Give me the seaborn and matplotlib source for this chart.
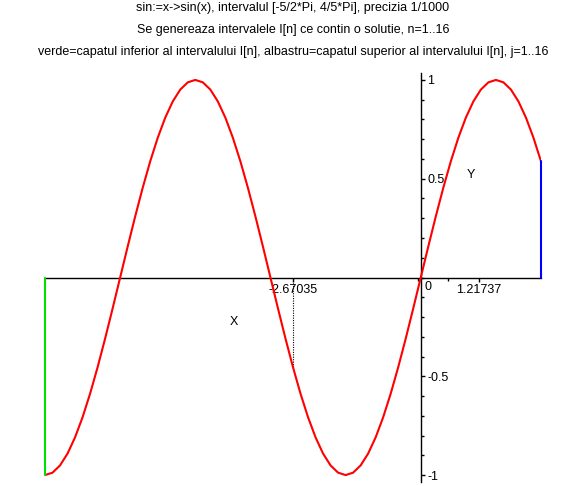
import matplotlib
matplotlib.use("Agg")
import matplotlib.pyplot as plt
import seaborn as sns
from matplotlib.ticker import MultipleLocator

# puncte (x in radiani, pas de 9 grade)
x_vals = [-7.8540, -7.6969, -7.5398, -7.3827, -7.2257, -7.0686, -6.9115, -6.7544,
          -6.5973, -6.4403, -6.2832, -6.1261, -5.9690, -5.8119, -5.6549, -5.4978,
          -5.3407, -5.1836, -5.0265, -4.8695, -4.7124, -4.5553, -4.3982, -4.2412,
          -4.0841, -3.9270, -3.7699, -3.6128, -3.4558, -3.2987, -3.1416, -2.9845,
          -2.8274, -2.6704, -2.5133, -2.3562, -2.1991, -2.0420, -1.8850, -1.7279,
          -1.5708, -1.4137, -1.2566, -1.0996, -0.9425, -0.7854, -0.6283, -0.4712,
          -0.3142, -0.1571, 0.0, 0.1571, 0.3142, 0.4712, 0.6283, 0.7854,
          0.9425, 1.0996, 1.2566, 1.4137, 1.5708, 1.7279, 1.8850, 2.0420,
          2.1991, 2.3562, 2.5133]
y_vals = [-1.0, -0.9877, -0.9511, -0.8910, -0.8090, -0.7071, -0.5878, -0.4540,
          -0.3090, -0.1564, 0.0, 0.1564, 0.3090, 0.4540, 0.5878, 0.7071,
          0.8090, 0.8910, 0.9511, 0.9877, 1.0, 0.9877, 0.9511, 0.8910,
          0.8090, 0.7071, 0.5878, 0.4540, 0.3090, 0.1564, 0.0, -0.1564,
          -0.3090, -0.4540, -0.5878, -0.7071, -0.8090, -0.8910, -0.9511, -0.9877,
          -1.0, -0.9877, -0.9511, -0.8910, -0.8090, -0.7071, -0.5878, -0.4540,
          -0.3090, -0.1564, 0.0, 0.1564, 0.3090, 0.4540, 0.5878, 0.7071,
          0.8090, 0.8910, 0.9511, 0.9877, 1.0, 0.9877, 0.9511, 0.8910,
          0.8090, 0.7071, 0.5878]

# capetele intervalului si punctul marcat
lower_end = (-7.8540, -1.0)     # verde
upper_end = (2.5133, 0.5878)    # albastru
marked_pt = (-2.67035, -0.4540)  # linie punctata

x_tick_pos = [-2.67035, 1.21737]
x_tick_lbl = ["-2.67035", "1.21737"]
x_minor_pos = [-0.065, 0.578]
y_tick_pos = [-1.0, -0.5, 0.5, 1.0]
y_tick_lbl = ["-1", "-0.5", "0.5", "1"]

titles = [
    "sin:=x->sin(x), intervalul [-5/2*Pi, 4/5*Pi], precizia 1/1000",
    "Se genereaza intervalele I[n] ce contin o solutie, n=1..16",
    "verde=capatul inferior al intervalului I[n], albastru=capatul superior al intervalului I[n], j=1..16",
]

sns.set_style("white")
plt.rcParams["font.family"] = ["Liberation Sans", "DejaVu Sans"]
plt.rcParams["text.color"] = "black"
plt.rcParams["xtick.color"] = "black"
plt.rcParams["ytick.color"] = "black"

fig = plt.figure(figsize=(5.86, 4.86), dpi=100)
ax = fig.add_axes([45 / 586, 4 / 486, 496 / 586, 409 / 486])

sns.lineplot(x=x_vals, y=y_vals, color="red", linewidth=1.5, ax=ax, zorder=3)
ax.plot([lower_end[0], lower_end[0]], [0, lower_end[1]], color="#00e000", lw=1.5,
        zorder=4, clip_on=False)
ax.plot([upper_end[0], upper_end[0]], [0, upper_end[1]], color="blue", lw=1.5,
        zorder=4, clip_on=False)
ax.plot([marked_pt[0], marked_pt[0]], [0, marked_pt[1]], color="black", lw=0.8,
        linestyle=(0, (1, 1.2)), zorder=2)

ax.set_xlim(x_vals[0], x_vals[-1])
ax.set_ylim(-1.035, 1.035)

# axe prin origine
ax.spines["left"].set_visible(False)
ax.spines["top"].set_visible(False)
ax.spines["right"].set_position(("data", 0))
ax.spines["bottom"].set_position(("data", 0))
for s in ("right", "bottom"):
    ax.spines[s].set_color("black")
    ax.spines[s].set_linewidth(1)
ax.yaxis.tick_right()

ax.set_xticks(x_tick_pos)
ax.set_xticklabels(x_tick_lbl)
ax.set_xticks(x_minor_pos, minor=True)
ax.set_yticks(y_tick_pos)
ax.set_yticklabels(y_tick_lbl)
ax.yaxis.set_minor_locator(MultipleLocator(0.1))
ax.tick_params(axis="both", which="major", direction="out", length=3, width=1,
               color="black", labelcolor="black", labelsize=9, pad=1.5)
ax.tick_params(axis="both", which="minor", direction="out", length=2, width=1,
               color="black")
ax.tick_params(axis="x", which="both", bottom=True)
ax.tick_params(axis="y", which="both", right=True, left=False)

ax.annotate("0", xy=(0, 0), xytext=(4, -3), textcoords="offset pixels",
            ha="left", va="top", fontsize=9, color="black")
ax.text(-3.90, -0.225, "X", ha="center", va="center", fontsize=9, color="black")
ax.text(1.04, 0.519, "Y", ha="center", va="center", fontsize=9, color="black")
ax.grid(False)

for i, t in enumerate(titles):
    fig.text(0.5, 1 - (8 + 22 * i) / 486, t, ha="center", va="center",
             fontsize=9, color="black")

fig.savefig("out.png", dpi=100)
